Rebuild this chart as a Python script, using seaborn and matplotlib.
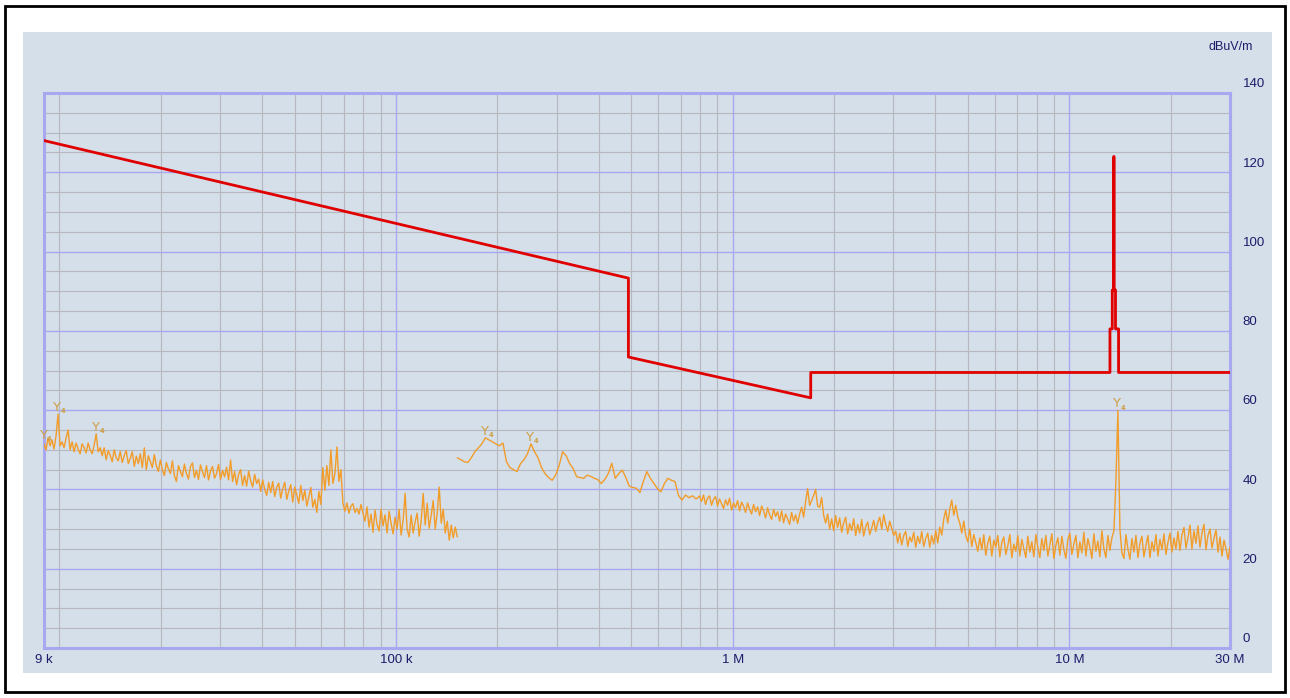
import numpy as np
import pandas as pd
import seaborn as sns
import matplotlib.pyplot as plt
from matplotlib.patches import Rectangle
from matplotlib.ticker import FixedLocator, LogLocator, MultipleLocator, NullFormatter
from matplotlib.transforms import ScaledTranslation

# limit line, dBuV/m
limit_freq = [9e3, 490e3, 490e3, 1.705e6, 1.705e6, 13.2e6, 13.2e6, 13.41e6, 13.41e6,
              13.553e6, 13.553e6, 13.567e6, 13.567e6, 13.71e6, 13.71e6, 14.0e6, 14.0e6, 30e6]
limit_level = [128, 93.3, 73.4, 63.1, 69.5, 69.5, 80.5, 80.5, 90.3,
               90.3, 124, 124, 90.3, 90.3, 80.5, 80.5, 69.5, 69.5]

# sweep 1: 9 kHz .. 152 kHz
scan1_level = [
    51.5, 50, 53, 51, 52.5, 50.2, 53.5, 59, 51, 52,
    50.5, 53, 55, 50, 52, 49.5, 51.7, 50.2, 49, 51.5,
    50.5, 49.2, 51.7, 50, 49, 51.2, 54, 49.5, 50.5, 48.5,
    50.5, 47.5, 49.8, 48.6, 47, 50, 48, 47.2, 49.6, 46.8,
    48.5, 49.8, 46.5, 47.8, 49.5, 45.8, 48.4, 46.5, 49, 45.5,
    50.5, 45, 48.5, 47, 45.5, 48.8, 46, 44.5, 47.4, 45,
    43.5, 46.8, 45.2, 44, 47.2, 43.5, 42, 46, 44.5, 43.2,
    46.4, 44, 42.6, 45.8, 46.7, 43, 44.8, 42.5, 46.2, 44.4,
    43, 46, 42.4, 44.6, 45.8, 42.8, 44, 46.3, 42.5, 44.8,
    43.2, 45.6, 42.4, 47.4, 42, 44.5, 41.2, 43.8, 45, 41,
    43.5, 40.8, 44.6, 42.2, 40.6, 43.8, 41.5, 42.6, 39.5, 42.4,
    40, 38.5, 41.8, 39.2, 42, 38.2, 40.5, 41.6, 37.8, 40.2,
    41.8, 37.5, 39.6, 41.2, 36.8, 40.6, 38.5, 36.5, 41, 37.2,
    39.8, 35.8, 38.2, 40.5, 35.5, 37.5, 34.2, 39.5, 36.2, 45.5,
    39.8, 46, 41, 50, 41.5, 44, 50.7, 42, 45, 36.5,
    34.5, 36.6, 34, 35.8, 36.4, 34.2, 35.2, 33.8, 36.2, 34,
    32, 35.6, 30.5, 33.8, 29.2, 34.8, 31.2, 29.5, 35, 30.8,
    33.6, 29, 34.5, 31.5, 28.8, 33, 30, 35, 28.5, 32.2,
    39, 30, 28, 33.5, 29, 31.8, 34, 28.2, 32, 39,
    31, 36.5, 30.2, 33.5, 37.2, 30, 34, 40.6, 31.5, 35,
    29, 32, 27.2, 31, 27.8, 30.5, 28,
]
scan1_freq = np.geomspace(9e3, 152e3, len(scan1_level))

# sweep 2, lower part: 152 kHz .. 797 kHz
scan2a_level = [
    48, 47.5, 47, 46.8, 48, 49.5, 50.5, 51.5, 53, 52.5,
    52, 51.5, 51, 51.7, 47, 45.5, 45, 44.5, 46.5, 47.5,
    49, 51.5, 49.5, 48, 45.5, 44, 43, 42.3, 43.6, 46,
    49.5, 48.5, 46.5, 45.3, 43.2, 43, 42.8, 43.6, 43.3, 42.8,
    42.5, 41.5, 42.5, 44, 46.6, 42.8, 44, 44.9, 43, 40.8,
    40.5, 40.3, 39.2, 42, 44.5, 42.8, 41.5, 40.2, 39.4, 41.5,
    42.8, 42.3, 42, 38.5, 37.3, 38.6, 37.9, 38.4, 37.6, 38.3,
]
scan2a_freq = np.geomspace(152e3, 797e3, len(scan2a_level))

# sweep 2, upper part: 797 kHz .. 30 MHz
scan2b_level = [
    38.3, 37, 38.6, 36.2, 37.8, 38.4, 36, 37.5, 38.2, 35.8,
    37.6, 36.4, 35.2, 37.4, 36, 37.8, 34.8, 36.6, 35.4, 37.2,
    34.6, 36.8, 35.8, 34.2, 36.6, 35, 33.8, 36.2, 34.4, 35.6,
    33.4, 35.8, 34.6, 32.8, 35.4, 33.6, 32.4, 35, 33.2, 34.4,
    32, 34.6, 31.6, 33.8, 32.6, 31.2, 34.2, 32, 33.6, 31.4,
    33.8, 35.5, 33, 37, 40.2, 36, 37.2, 38.5, 40, 35.8,
    35.5, 38, 33.5, 31.5, 33.8, 30, 32.6, 29.6, 33.4, 30.4,
    32.8, 29.2, 31.6, 33, 28.8, 31.4, 29.6, 32.6, 28.4, 31.2,
    29, 32.4, 28.2, 30.6, 31.8, 28.6, 30.2, 32.2, 29.4, 31.6,
    33, 30, 33.6, 31.2, 29.4, 32, 30.2, 28.4, 29.5, 26.5,
    29, 26, 28.4, 29.4, 25.6, 28, 26.8, 29.2, 25.4, 28.2,
    26.4, 29.4, 25.6, 27.6, 29, 25.4, 28.4, 26.2, 29.6, 26.5,
    30.5, 28.5, 32.5, 34.8, 31.5, 35, 37.3, 33.5, 36, 33,
    31.5, 29, 32, 28.4, 26.8, 30, 25.6, 28.6, 26.6, 24.4,
    27.8, 24.8, 28.6, 23.4, 26.4, 28.2, 23.2, 27.2, 25.4, 28.4,
    23, 26.6, 28, 23.6, 25.8, 28.6, 22.8, 26.2, 24.4, 28.4,
    23.2, 27.4, 25, 22.8, 28.2, 24.2, 26.8, 23, 28.6, 25.4,
    22.8, 27.6, 24.6, 28.4, 23.2, 26, 28.8, 22.6, 25.8, 27.8,
    23.4, 28.2, 24.8, 22.6, 27.4, 29, 23.6, 26.2, 28.4, 22.8,
    26.8, 24, 29.2, 23.2, 27.6, 25.4, 22.6, 28.8, 24.4, 27,
    23, 29.6, 25, 22.8, 28.4, 24.6, 27.8, 29.5, 42, 60,
    30, 24, 22.6, 28.6, 25, 22.4, 27.6, 24.2, 28.4, 22.8,
    26.4, 28.2, 23, 25.8, 28.4, 22.8, 26.8, 24.4, 28.6, 23.2,
    27.4, 24.8, 28.8, 23.6, 26.6, 29, 24.2, 27.8, 25, 29.4,
    24.6, 28.6, 30.4, 25.2, 27.8, 31, 25, 29.6, 26.4, 30.8,
    25.4, 29, 31.2, 24.8, 28.4, 30, 25.2, 27.6, 29.8, 24.2,
    28, 23.2, 27.2, 25, 22.4, 25.5,
]
scan2b_freq = np.geomspace(797e3, 30e6, len(scan2b_level))

# peak markers
marker_freq = [9.0e3, 9.85e3, 12.9e3, 184e3, 251e3, 13.9e6]
marker_level = [52, 59, 54, 53, 51.5, 60]

xtick_pos = [9e3, 1e5, 1e6, 1e7, 3e7]
xtick_lab = ["9 k", "100 k", "1 M", "10 M", "30 M"]
ytick_pos = [0, 20, 40, 60, 80, 100, 120, 140]

panel_bg = "#d4dfea"
blue_grid = "#a8a8f0"
gray_grid = "#b6b8bd"
text_col = "#1c1c6a"
red = "#e00000"
orange = "#f29c2a"
marker_col = "#cf9f45"

sns.set_style("white", {"axes.facecolor": panel_bg})
plt.rcParams['font.family'] = ['Liberation Sans', 'DejaVu Sans']

fig = plt.figure(figsize=(12.9, 6.98), dpi=100)
fig.patch.set_facecolor("white")
# outer frame and grey-blue panel
fig.patches.append(Rectangle((5 / 1290, 6 / 698), 1280 / 1290, 686 / 698, transform=fig.transFigure,
                             facecolor="white", edgecolor="black", lw=2, zorder=-2))
fig.patches.append(Rectangle((23 / 1290, 25 / 698), 1249 / 1290, 641 / 698, transform=fig.transFigure,
                             facecolor=panel_bg, edgecolor="none", zorder=-1))

ax = fig.add_axes([44 / 1290, 50 / 698, 1186 / 1290, 555 / 698])
ax.set_xscale("log")
ax.set_xlim(9e3, 30e6)
ax.set_ylim(0, 140)

df_lim = pd.DataFrame({"freq": limit_freq, "level": limit_level})
df1 = pd.DataFrame({"freq": scan1_freq, "level": scan1_level})
df2a = pd.DataFrame({"freq": scan2a_freq, "level": scan2a_level})
df2b = pd.DataFrame({"freq": scan2b_freq, "level": scan2b_level})

for d in [df1, df2a, df2b]:
    sns.lineplot(data=d, x="freq", y="level", ax=ax, color=orange, lw=1.0,
                 estimator=None, sort=False, zorder=3)
sns.lineplot(data=df_lim, x="freq", y="level", ax=ax, color=red, lw=2.0,
             estimator=None, sort=False, zorder=4)

for f, v in zip(marker_freq, marker_level):
    ax.annotate("Y", (f, v), xytext=(-1, 0), textcoords="offset points",
                ha="center", va="bottom", fontsize=9.5, color=marker_col, zorder=5,
                family=["DejaVu Sans"], annotation_clip=False)
    ax.annotate("\u2084", (f, v), xytext=(4, -1), textcoords="offset points",
                ha="center", va="bottom", fontsize=8, color=marker_col, zorder=5,
                family=["DejaVu Sans"], fontweight="bold", annotation_clip=False)

# grid
ax.xaxis.set_major_locator(FixedLocator(xtick_pos))
ax.xaxis.set_minor_locator(LogLocator(base=10, subs=np.arange(1, 10)))
ax.xaxis.set_minor_formatter(NullFormatter())
ax.set_xticklabels(xtick_lab)
ax.yaxis.set_major_locator(FixedLocator(ytick_pos))
ax.yaxis.set_minor_locator(MultipleLocator(5))
ax.grid(which="minor", color=gray_grid, lw=0.8, zorder=1)
ax.grid(which="major", axis="y", color=blue_grid, lw=1.0, zorder=2)
for f in [1e5, 1e6, 1e7]:
    ax.axvline(f, color=blue_grid, lw=1.0, zorder=2)
ax.set_axisbelow(True)

for s in ax.spines.values():
    s.set_color(blue_grid)
    s.set_linewidth(2.2)

ax.yaxis.tick_right()
ax.tick_params(which="both", length=0)
ax.tick_params(axis="y", pad=9, labelsize=9.5, labelcolor=text_col)
ax.tick_params(axis="x", pad=4, labelsize=9.5, labelcolor=text_col)
for lab in ax.get_yticklabels():
    lab.set_va("bottom")
    lab.set_transform(lab.get_transform() + ScaledTranslation(0, 2 / 72, fig.dpi_scale_trans))
ax.set_xlabel("")
ax.set_ylabel("")

fig.text(1253 / 1290, 1 - 47 / 698, "dBuV/m", ha="right", va="center", fontsize=9, color=text_col)

fig.savefig("out.png", dpi=100, facecolor="white")
